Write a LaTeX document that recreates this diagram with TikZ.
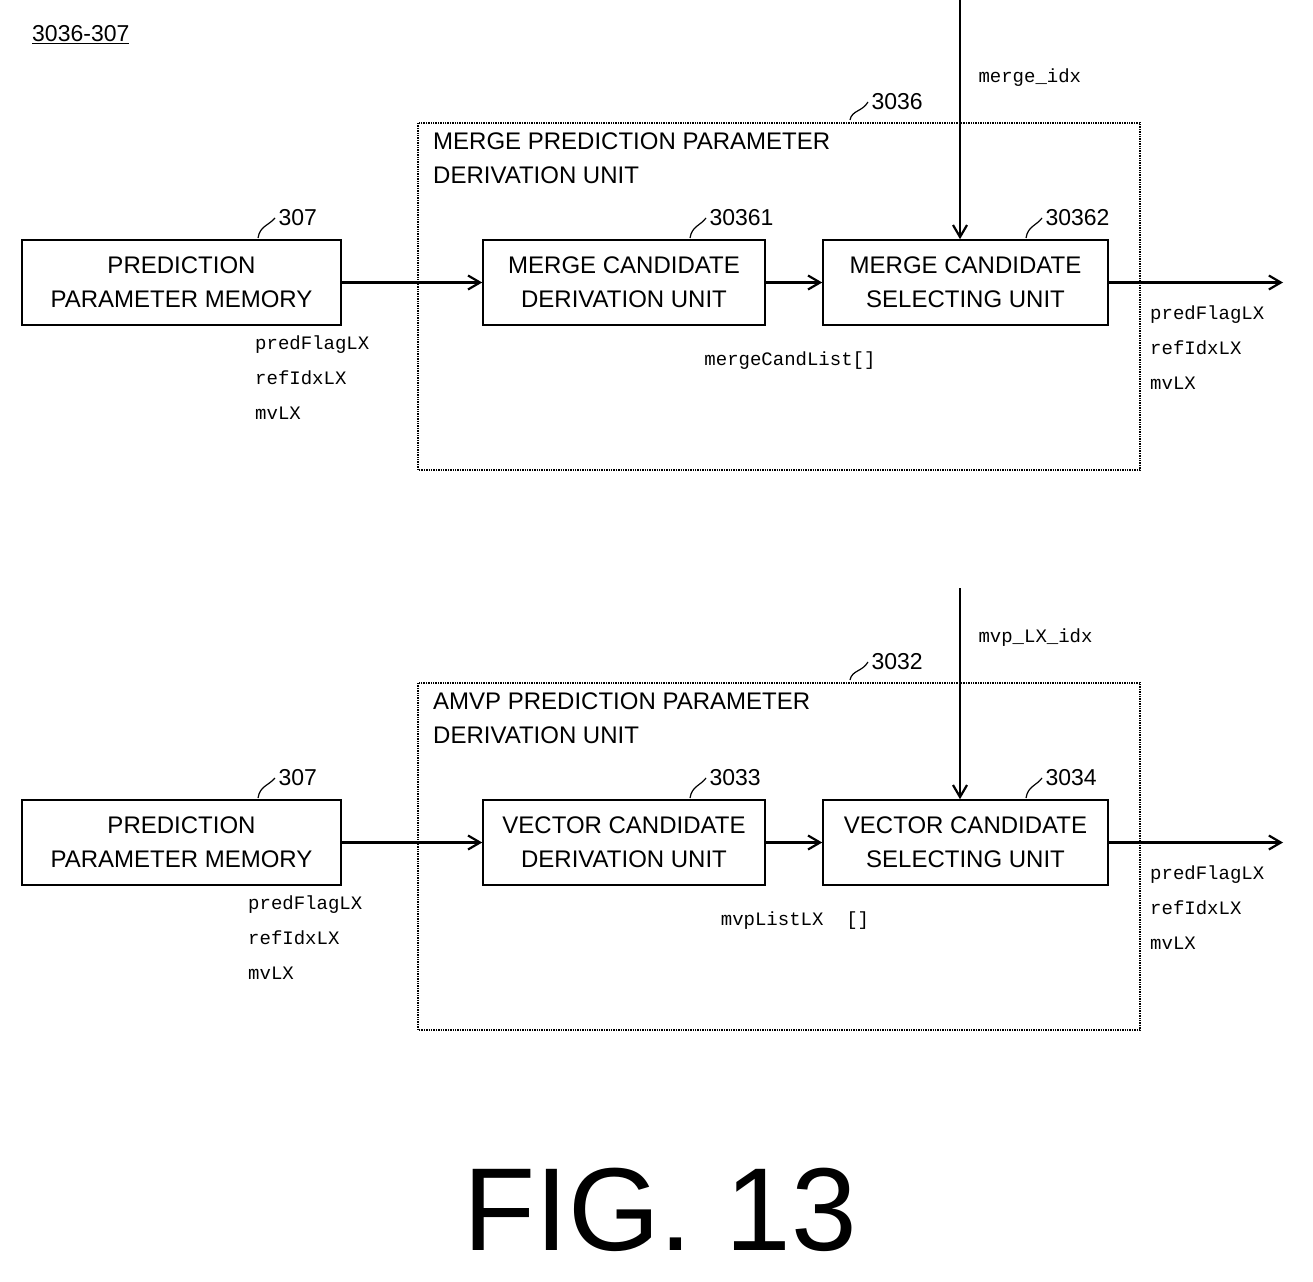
\documentclass[tikz,border=0pt]{standalone}
\usepackage{fontspec}
\setmainfont{Liberation Sans}
\newfontfamily\codefont{Liberation Mono}
\usetikzlibrary{arrows.meta}
\begin{document}
\begin{tikzpicture}[x=1pt,y=-1pt,
  blk/.style={draw,line width=1.6pt,minimum width=#1,minimum height=85pt,align=center,font=\fontsize{24}{34}\selectfont,inner sep=0pt},
  outer/.style={draw,line width=1.4pt,densely dotted},
  arr/.style={line width=2.2pt,-{Straight Barb[length=12pt,width=14pt]}},
  lbl/.style={font=\fontsize{23}{23}\selectfont},
  code/.style={font=\codefont\fontsize{19}{35}\selectfont,align=left,anchor=north west,inner sep=0pt},
  lead/.style={line width=1.2pt}]
\useasboundingbox (0,0) rectangle (1313,1281);
\node[anchor=west,lbl,inner sep=0pt] (hdr) at (32,35) {\underline{3036-307}};

\foreach \dy/\pref/\outl/\ttl/\la/\lb/\ta/\tb/\idx/\mid/\cx/\lx in
 {0/top/3036/{MERGE PREDICTION PARAMETER\\DERIVATION UNIT}/30361/30362/{MERGE CANDIDATE\\DERIVATION UNIT}/{MERGE CANDIDATE\\SELECTING UNIT}/merge\_idx/mergeCandList[]/790/255,
  560/bot/3032/{AMVP PREDICTION PARAMETER\\DERIVATION UNIT}/3033/3034/{VECTOR CANDIDATE\\DERIVATION UNIT}/{VECTOR CANDIDATE\\SELECTING UNIT}/mvp\_LX\_idx/mvpListLX\ \ []/795/248}{
  \begin{scope}[yshift=-\dy pt]
  \draw[outer] (418,123) rectangle (1140,470);
  \node[lbl,anchor=west] (\pref-ol) at (868,102) {\outl};
  \draw[lead] (850,120) .. controls (852,110) and (862,112) .. (\pref-ol.west);
  \node[font=\fontsize{24}{34}\selectfont,anchor=north west,align=left,inner sep=0pt] (\pref-ttl) at (433,133) {\ttl};
  \node[blk=319pt] (\pref-mem) at (181.5,282.5) {PREDICTION\\PARAMETER MEMORY};
  \node[blk=282pt] (\pref-a) at (624,282.5) {\ta};
  \node[blk=285pt] (\pref-b) at (965.5,282.5) {\tb};
  \node[lbl,anchor=west] (\pref-l1) at (275,218) {307};
  \node[lbl,anchor=west] (\pref-l2) at (706,218) {\la};
  \node[lbl,anchor=west] (\pref-l3) at (1042,218) {\lb};
  \draw[lead] (258,238) .. controls (260,226) and (268,226) .. (\pref-l1.west);
  \draw[lead] (690,238) .. controls (692,226) and (700,226) .. (\pref-l2.west);
  \draw[lead] (1026,238) .. controls (1028,226) and (1036,226) .. (\pref-l3.west);
  \draw[arr] (\pref-mem) -- (\pref-a);
  \draw[arr] (\pref-a) -- (\pref-b);
  \coordinate (\pref-out) at (1283,282.5);
  \draw[arr] (\pref-b) -- (\pref-out);
  \node[font=\codefont\fontsize{19}{19}\selectfont,anchor=west] (\pref-idx) at (975,78) {\idx};
  \node[code,anchor=north] (\pref-mid) at (\cx,352) {\mid};
  \node[code] (\pref-lt) at (\lx,336) {predFlagLX\\refIdxLX\\mvLX};
  \node[code] (\pref-rt) at (1150,306) {predFlagLX\\refIdxLX\\mvLX};
  \end{scope}
}
\coordinate (tin) at (960,0);
\coordinate (bin) at (960,588);
\draw[arr] (tin) -- (top-b.north -| tin);
\draw[arr] (bin) -- (bot-b.north -| bin);
\node[font=\fontsize{118}{118}\selectfont] (fig) at (660,1210) {FIG. 13};
\end{tikzpicture}
\end{document}
